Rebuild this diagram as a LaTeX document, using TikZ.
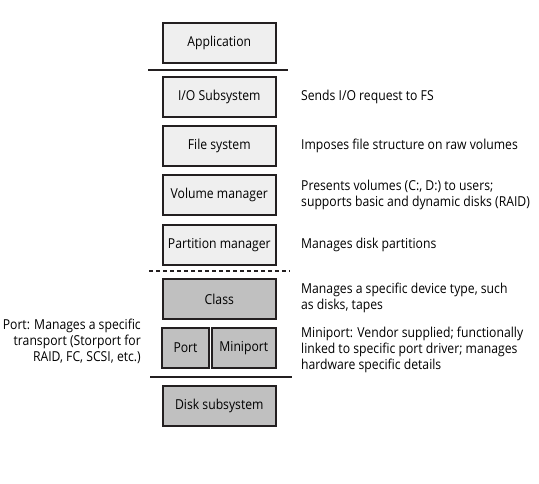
\documentclass[tikz,border=0pt]{standalone}
\usepackage{fontspec}
\setmainfont{Open Sans}[FakeStretch=0.89]
\definecolor{edge}{HTML}{231F20}
\definecolor{lightfill}{HTML}{EFEFEF}
\definecolor{darkfill}{HTML}{C0C0C0}
\tikzset{
  layer/.style={draw=edge, line width=2pt, minimum height=40pt, inner sep=0pt, font=\fontsize{13.7}{16}\selectfont},
  lightbox/.style={layer, fill=lightfill, minimum width=113pt},
  darkbox/.style={layer, fill=darkfill, minimum width=113pt},
  note/.style={inner sep=0pt, font=\fontsize{13.7}{16}\selectfont},
  sep/.style={draw=edge, line width=2pt},
}
\begin{document}
\begin{tikzpicture}[x=1pt,y=-1pt]
\useasboundingbox (0,0) rectangle (539,484);
\node[lightbox] (app) at (219.3,43) {Application};
\node[lightbox] (io) at (219.3,97.3) {I/O Subsystem};
\node[lightbox] (fs) at (219.3,146.2) {File system};
\node[lightbox] (vm) at (219.3,195.3) {Volume manager};
\node[lightbox] (pm) at (219.3,244.7) {Partition manager};
\node[darkbox] (cls) at (219.3,299) {Class};
\node[layer, fill=darkfill, minimum width=46.5pt] (port) at (185.5,348) {Port};
\node[layer, fill=darkfill, minimum width=64.5pt] (mini) at (243.8,348) {Miniport};
\node[darkbox] (disk) at (219.3,406) {Disk subsystem};

\coordinate (s1a) at (148,70); \coordinate (s1b) at (288,70);
\coordinate (s2a) at (149,271.5); \coordinate (s2b) at (290,271.5);
\coordinate (s3a) at (150,377); \coordinate (s3b) at (292,377);
\draw[sep] (s1a) -- (s1b);
\draw[sep, dash pattern=on 4pt off 3pt] (s2a) -- (s2b);
\draw[sep] (s3a) -- (s3b);

\node[note, anchor=west] (t1) at (301,97.3) {Sends I/O request to FS};
\node[note, anchor=west] (t2) at (301,146.2) {Imposes file structure on raw volumes};
\node[note, anchor=west, align=left] (t3) at (301,194.5) {Presents volumes (C:, D:) to users;\\supports basic and dynamic disks (RAID)};
\node[note, anchor=west] (t4) at (301,244.7) {Manages disk partitions};
\node[note, anchor=west, align=left] (t5) at (301,298) {Manages a specific device type, such\\as disks, tapes};
\node[note, anchor=west, align=left] (t6) at (301,350) {Miniport: Vendor supplied; functionally\\linked to specific port driver; manages\\hardware specific details};
\node[note, anchor=east, align=right] (t7) at (141,341) {Port: Manages a specific\\transport (Storport for\\RAID, FC, SCSI, etc.)};
\end{tikzpicture}
\end{document}
